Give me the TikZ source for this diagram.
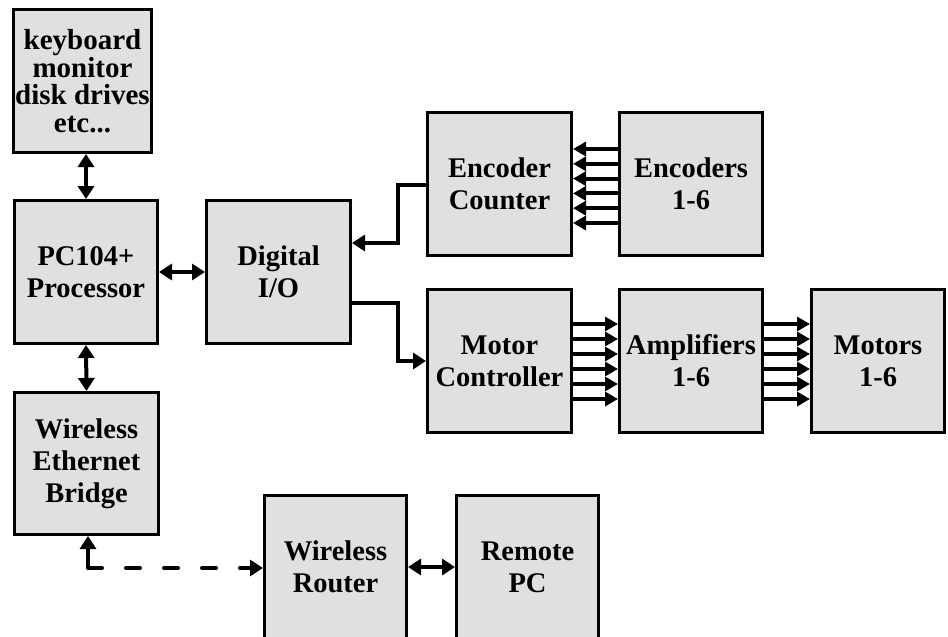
\documentclass[tikz,border=0pt]{standalone}
\usepackage{fontspec}
\setmainfont{Liberation Serif}
\usetikzlibrary{arrows.meta}
\definecolor{boxgray}{HTML}{E0E0E0}
\begin{document}
\begin{tikzpicture}[x=1pt,y=-1pt,
  box/.style={draw=black, line width=3pt, fill=boxgray, minimum width=143pt, minimum height=143pt,
    align=center, inner sep=0pt, font=\bfseries\fontsize{28.5}{32}\selectfont},
  conn/.style={line width=4pt, -{Triangle[length=13pt,width=16pt]}},
  dconn/.style={line width=4pt, {Triangle[length=13pt,width=16pt]}-{Triangle[length=13pt,width=16pt]}},
  marr/.style={line width=4pt, -{Triangle[length=13pt,width=14pt]}},
  dashconn/.style={conn, line cap=round, dash pattern=on 14pt off 24pt}]
\useasboundingbox (0,0) rectangle (948,637);
\clip (0,0) rectangle (948,637);
\node[box, minimum width=138pt, font=\bfseries\fontsize{29}{27.5}\selectfont] (kb) at (82.5,81) {keyboard\\monitor\\disk drives\\etc...};
\node[box] (pc) at (86,272) {PC104+\\Processor};
\node[box, minimum width=144pt] (dio) at (278.5,272) {Digital\\I/O};
\node[box, minimum width=144pt] (ec) at (499.5,184) {Encoder\\Counter};
\node[box] (enc) at (691,184) {Encoders\\1-6};
\node[box, minimum width=144pt] (mc) at (499.5,361) {Motor\\Controller};
\node[box] (amp) at (691,361) {Amplifiers\\1-6};
\node[box, minimum width=133pt] (mot) at (878,361) {Motors\\1-6};
\node[box, minimum width=144pt, minimum height=142pt] (br) at (86.5,463.5) {Wireless\\Ethernet\\Bridge};
\node[box, minimum width=142pt] (wr) at (335.5,567) {Wireless\\Router};
\node[box, minimum width=142pt] (rpc) at (527.5,567) {Remote\\PC};
% connectors
\draw[dconn] (pc.north |- kb.south) -- (pc.north);
\draw[dconn] (br.north) -- (pc.south);
\draw[dconn] (pc.east) -- (dio.west);
\draw[conn] ([yshift=-1pt]ec.west) -- ++(-28,0) |- ([yshift=29pt]dio.east);
\draw[conn] ([yshift=-31pt]dio.east) -- ++(46,0) |- (mc.west);
\foreach \k in {0,...,5} {
  \draw[marr] ([yshift={35pt-14.8pt*\k}]enc.west) -- ([yshift={35pt-14.8pt*\k}]ec.east);
  \draw[marr] ([yshift={37pt-15pt*\k}]mc.east) -- ([yshift={37pt-15pt*\k}]amp.west);
  \draw[marr] ([yshift={37pt-15pt*\k}]amp.east) -- ([yshift={37pt-15pt*\k}]mot.west);
}
\draw[dconn] (wr.east) -- (rpc.west);
\coordinate (bc) at (88,568);
\draw[conn] (bc) -- (br.south -| bc);
\draw[dashconn] (bc) -- (bc -| wr.west);
\end{tikzpicture}
\end{document}
